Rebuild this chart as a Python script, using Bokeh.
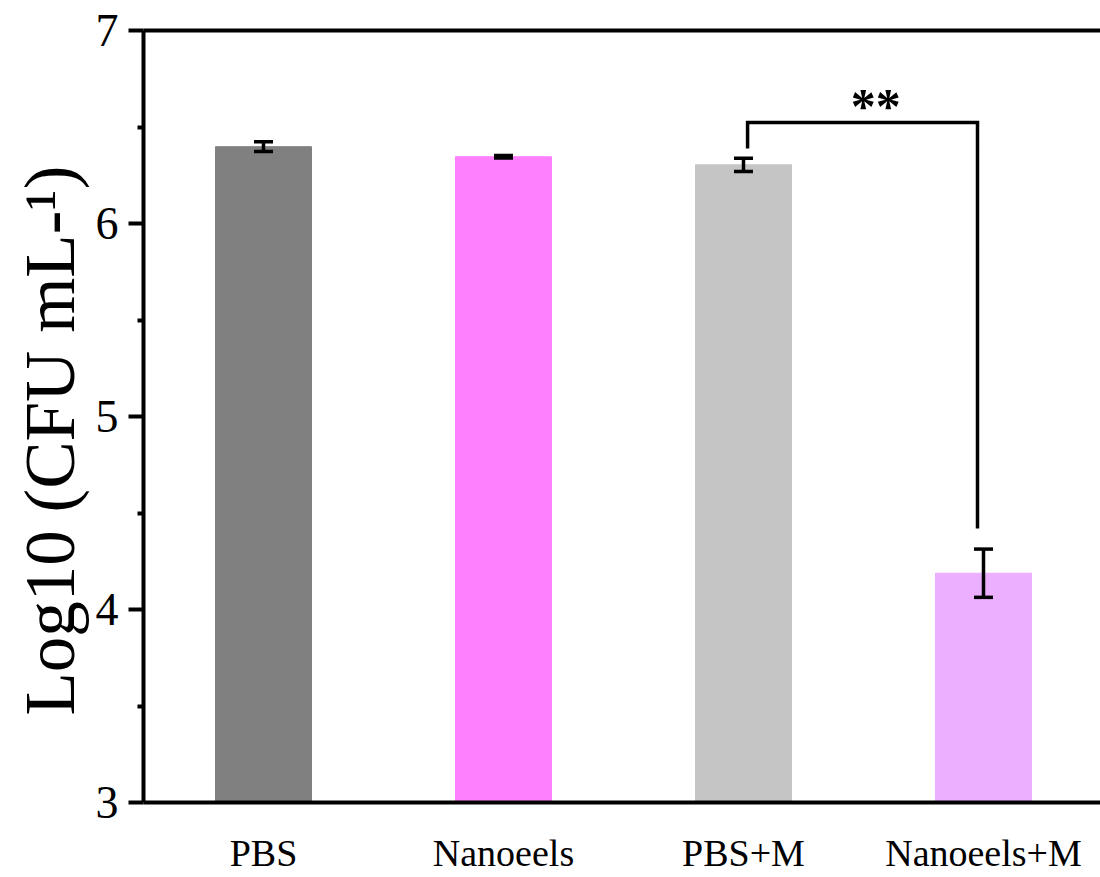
from bokeh.plotting import figure
from bokeh.models import FixedTicker, LinearAxis, Whisker, TeeHead, ColumnDataSource, Range1d, Title
from bokeh.core.properties import value
from bokeh.embed import file_html
from bokeh.resources import INLINE

# Bacterial counts per treatment group
groups = ["PBS", "Nanoeels", "PBS+M", "Nanoeels+M"]
log_cfu = [6.398, 6.346, 6.304, 4.188]
log_cfu_err = [0.025, 0.006, 0.034, 0.125]
bar_colors = ["#808080", "#FF80FF", "#C5C5C5", "#ECAEFF"]

# Significance bracket between PBS+M and Nanoeels+M
bracket_pair = (3, 4)
bracket_top = 6.523
bracket_foot = [6.389, 4.42]
bracket_text = "**"

y_ticks = [3, 4, 5, 6, 7]
y_minor = [3.5, 4.5, 5.5, 6.5]
y_title = "Log10 (CFU mL-\u00b9)"

FONT = "Liberation Serif"

xs = list(range(1, len(groups) + 1))
src = ColumnDataSource(dict(
    x=xs, top=log_cfu, color=bar_colors,
    upper=[v + e for v, e in zip(log_cfu, log_cfu_err)],
    lower=[v - e for v, e in zip(log_cfu, log_cfu_err)],
))

p = figure(width=1100, height=877, output_backend="svg", toolbar_location=None,
           x_range=Range1d(0.5, 4.4875), y_range=Range1d(3, 7),
           min_border_left=143, min_border_right=0, min_border_top=30,
           min_border_bottom=75, background_fill_color="white",
           border_fill_color="white")
p.outline_line_color = None
p.xgrid.grid_line_color = None
p.ygrid.grid_line_color = None

p.vbar(x="x", top="top", bottom=3, width=0.4, color="color", source=src)

err = Whisker(base="x", upper="upper", lower="lower", source=src, level="overlay",
              line_color="black", line_width=3.5,
              upper_head=TeeHead(size=19, line_width=3.5, line_color="black"),
              lower_head=TeeHead(size=19, line_width=3.5, line_color="black"))
p.add_layout(err)

# bracket
bx0 = bracket_pair[0] + 0.017
bx1 = bracket_pair[1] - 0.025
p.line([bx0, bx0, bx1, bx1], [bracket_foot[0], bracket_top, bracket_top, bracket_foot[1]],
       line_color="black", line_width=3.5, line_join="miter")
p.text(x=[(bx0 + bx1) / 2 + 0.055], y=[bracket_top + 0.085], text=[bracket_text],
       text_font=value(FONT), text_font_size="50px", text_font_style="bold",
       text_align="center", text_baseline="alphabetic", text_color="black")

# x axis
xa = p.xaxis[0]
xa.ticker = FixedTicker(ticks=xs)
xa.major_label_overrides = {i: g for i, g in zip(xs, groups)}
xa.major_label_text_font = FONT
xa.major_label_text_font_size = "38px"
xa.major_label_text_color = "black"
xa.major_label_standoff = 23
xa.major_tick_line_color = None
xa.minor_tick_line_color = None
xa.axis_line_width = 4
xa.axis_line_color = "black"

# y axis
ya = p.yaxis[0]
ya.ticker = FixedTicker(ticks=y_ticks, minor_ticks=y_minor)
ya.major_label_text_font = FONT
ya.major_label_text_font_size = "46px"
ya.major_label_text_color = "black"
ya.major_label_standoff = 10
ya.major_tick_out = 15
ya.major_tick_in = 0
ya.minor_tick_out = 6
ya.minor_tick_in = 0
ya.major_tick_line_width = 4
ya.minor_tick_line_width = 4
ya.major_tick_line_color = "black"
ya.minor_tick_line_color = "black"
ya.axis_line_width = 4
ya.axis_line_color = "black"

# y-axis title as a left-side title, anchored from the bottom of the frame
p.add_layout(Title(text=y_title, align="left", offset=87,
                   text_font=FONT, text_font_size="71px", text_font_style="normal",
                   text_color="black", standoff=8), "left")

# top frame line
top = LinearAxis(ticker=FixedTicker(ticks=[]), axis_line_width=4, axis_line_color="black",
                 major_tick_line_color=None, minor_tick_line_color=None,
                 major_label_text_font_size="0px")
p.add_layout(top, "above")

open("out.html", "w").write(file_html(p, INLINE))
